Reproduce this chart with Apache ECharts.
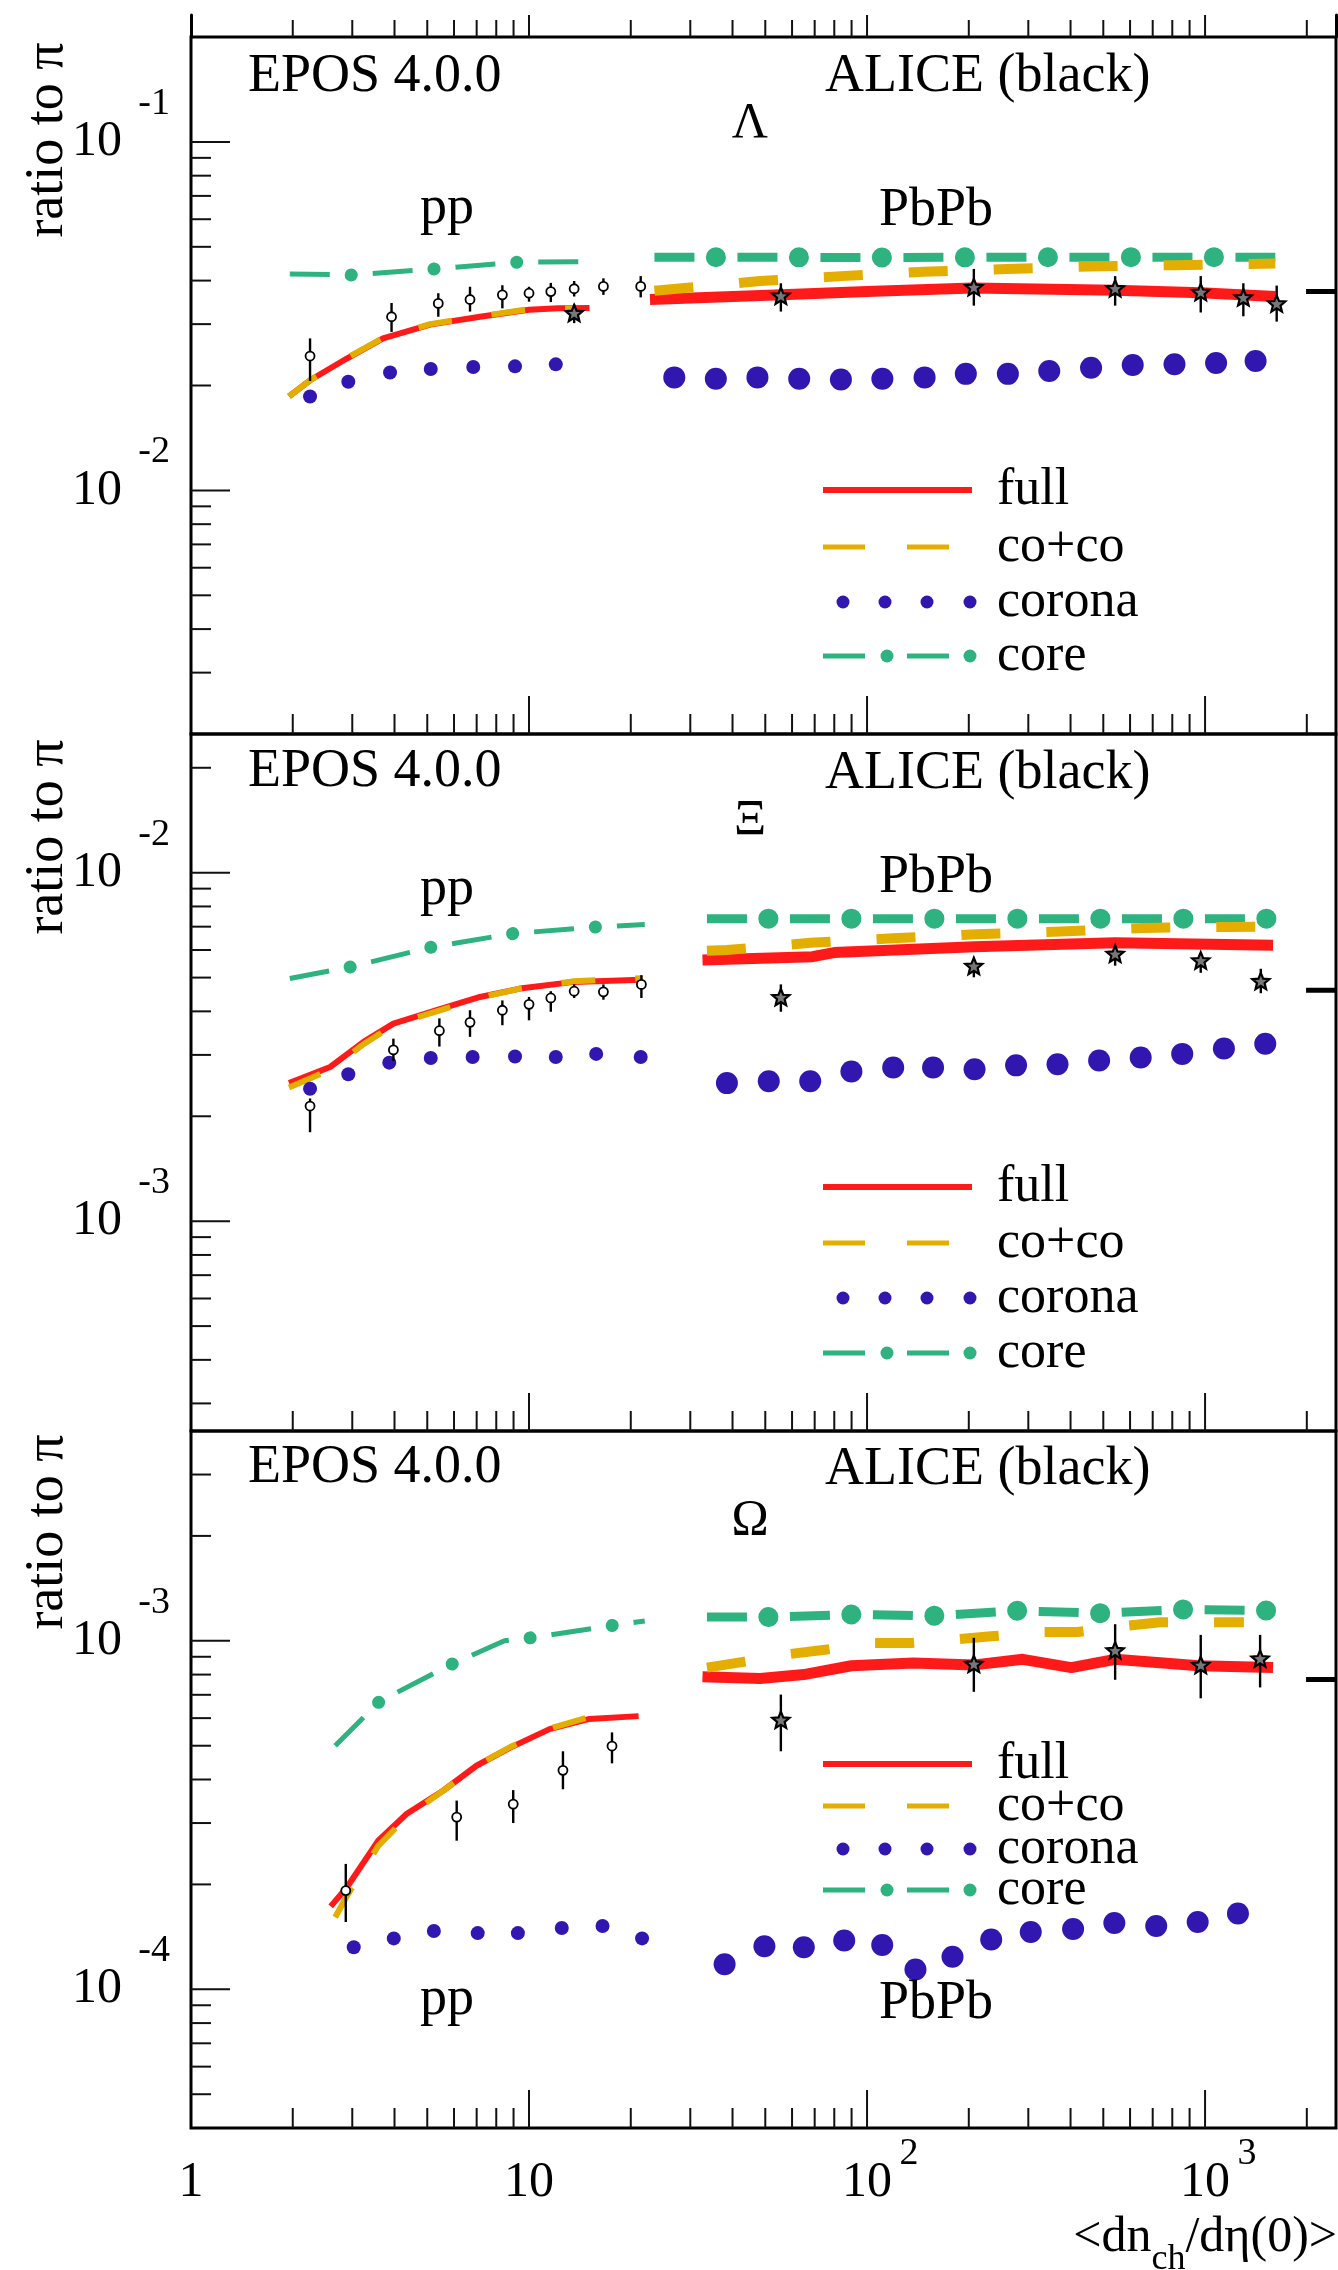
<!DOCTYPE html>
<html>
<head>
<meta charset="utf-8">
<script src="https://cdn.jsdelivr.net/npm/echarts@6/dist/echarts.min.js"></script>
<style>
  html, body { margin: 0; padding: 0; background: #fff; }
  #chart { width: 1338px; height: 2270px; }
</style>
</head>
<body>
<div id="chart"></div>
<script>
// values, [x, y] pairs; ALICE points are [x, y, low, high]

// ---- Lambda ----
const lamFullPP = [[1.95,0.0186],[2.25,0.0207],[2.89,0.0239],[3.7,0.0273],[5.1,0.0299],[7.16,0.0315],[10.0,0.033],[12.2,0.0333],[15.1,0.0334]];
const lamCocoPP = [[1.95,0.0186],[2.25,0.0207],[2.89,0.024],[3.7,0.0274],[5.1,0.03],[7.16,0.0316],[10.0,0.0331],[13.6,0.0333]];
const lamCorePP = [[1.96,0.0418],[3.01,0.0415],[5.28,0.0432],[9.27,0.0452],[14.2,0.0453]];
const lamCoronaPP = [[2.25,0.0186],[2.92,0.0205],[3.88,0.0218],[5.12,0.0223],[6.84,0.0226],[9.09,0.0227],[12.0,0.023]];
const lamFullPb = [[22.8,0.0353],[55.9,0.0364],[100,0.0372],[205,0.0381],[542,0.0375],[971,0.0369],[1614,0.036]];
const lamCocoPb = [[23.5,0.0374],[48.3,0.0399],[83.8,0.0412],[147,0.0424],[259,0.0432],[458,0.0439],[812,0.0443],[1614,0.0448]];
const lamCorePb = [[23.5,0.0467],[100,0.0466],[500,0.0467],[1614,0.0467]];
const lamCoronaPb = [[26.9,0.0211],[35.7,0.0209],[47.4,0.0211],[63.0,0.0209],[83.7,0.0208],[111,0.0209],[148,0.0211],[196,0.0216],[261,0.0216],[346,0.022],[460,0.0225],[611,0.0229],[812,0.023],[1078,0.0232],[1411,0.0235]];
const lamAlicePP = [[2.25,0.0243,0.0206,0.0273],[3.92,0.0315,0.0285,0.0345],[5.39,0.0344,0.0315,0.0368],[6.69,0.0353,0.0326,0.0384],[8.34,0.0364,0.0333,0.0388],[10.0,0.0368,0.0348,0.0384],[11.6,0.0372,0.0347,0.0394],[13.6,0.0379,0.036,0.0399],[16.6,0.0385,0.0364,0.0406],[21.4,0.0385,0.0358,0.0412]];
const lamStarPP = [[13.6,0.0321,0.0302,0.0342]];
const lamAlicePb = [[55.6,0.036,0.0326,0.0393],[207,0.0381,0.0339,0.0432],[542,0.0378,0.0339,0.0412],[971,0.0369,0.0324,0.0412],[1298,0.0356,0.0316,0.0393],[1629,0.0342,0.0305,0.0387]];
const lamRef = 0.0372;

// ---- Xi ----
const xiFullPP = [[1.95,0.00249],[2.58,0.00277],[3.24,0.00327],[3.97,0.00369],[5.33,0.00403],[7.16,0.0044],[9.4,0.00465],[13.6,0.00486],[21.4,0.00493]];
const xiCocoPP = [[1.95,0.00242],[2.58,0.00272],[3.24,0.00322],[3.97,0.00366],[5.33,0.004],[7.16,0.00438],[9.4,0.00465],[13.6,0.00488],[21.7,0.00498]];
const xiCorePP = [[1.96,0.00497],[2.95,0.00536],[5.16,0.00612],[8.98,0.00669],[15.9,0.00699],[22.0,0.0071]];
const xiCoronaPP = [[2.25,0.0024],[2.92,0.00264],[3.86,0.00285],[5.12,0.00294],[6.81,0.00296],[9.09,0.00297],[12.0,0.00296],[15.8,0.00302],[21.4,0.00296]];
const xiFullPb = [[32.6,0.00562],[69,0.00574],[79.9,0.0059],[208,0.00613],[542,0.00629],[1589,0.00619]];
const xiCocoPb = [[33.6,0.00597],[38.5,0.006],[67.9,0.00629],[119,0.00648],[211,0.00666],[373,0.00678],[658,0.00694],[1161,0.00699],[1500,0.007]];
const xiCorePb = [[33.6,0.00738],[200,0.00738],[1663,0.00738]];
const xiCoronaPb = [[38.5,0.00249],[51.2,0.00252],[67.9,0.00252],[89.9,0.00269],[119.5,0.00276],[156.8,0.00276],[208,0.00273],[276,0.0028],[366,0.00282],[486,0.00289],[645,0.00295],[856,0.00302],[1137,0.00313],[1507,0.00323]];
const xiAlicePP = [[2.25,0.00214,0.0018,0.00225],[3.97,0.0031,0.00288,0.00334],[5.43,0.00352,0.00317,0.00382],[6.69,0.00372,0.00338,0.00403],[8.34,0.00403,0.00365,0.0043],[10.0,0.00419,0.00377,0.0044],[11.6,0.00437,0.00399,0.00457],[13.6,0.00457,0.00437,0.00478],[16.6,0.00455,0.00432,0.00478],[21.5,0.00478,0.00437,0.00508]];
const xiAlicePb = [[55.6,0.00437,0.00399,0.00478],[207,0.00537,0.00501,0.00565],[542,0.00582,0.00541,0.0062],[971,0.00557,0.00516,0.00582],[1462,0.00486,0.00451,0.0053]];
const xiRef = 0.0046;

// ---- Omega ----
const omFullPP = [[2.59,0.000173],[2.89,0.000196],[3.58,0.000267],[4.35,0.000319],[5.58,0.000372],[6.99,0.000438],[8.77,0.000493],[11.5,0.000558],[15.1,0.000597],[21.1,0.000608]];
const omCocoPP = [[2.67,0.000161],[2.89,0.000185],[3.58,0.000258],[4.35,0.000313],[5.58,0.000372],[6.99,0.000438],[8.77,0.000495],[11.5,0.00056],[15.1,0.000605],[18.1,0.00063]];
const omCorePP = [[2.67,0.0005],[3.61,0.00067],[5.91,0.000857],[8.46,0.001],[10.1,0.00102],[18.0,0.00111],[22.0,0.00114]];
const omCoronaPP = [[3.03,0.000132],[3.98,0.00014],[5.23,0.000147],[7.05,0.000145],[9.27,0.000145],[12.5,0.00015],[16.5,0.000152],[21.6,0.00014]];
const omFullPb = [[32.6,0.000789],[48.3,0.00078],[65,0.0008],[89.9,0.000848],[137,0.000863],[208,0.000853],[289,0.000885],[402,0.000838],[542,0.000885],[957,0.000848],[1589,0.000838]];
const omCocoPb = [[33.6,0.000838],[43,0.00087],[59.3,0.000917],[76.1,0.000944],[103,0.000985],[135,0.000985],[183,0.00101],[233,0.00103],[322,0.00106],[420,0.00106],[565,0.0011],[738,0.00113],[1002,0.00113],[1303,0.00113]];
const omCorePb = [[33.6,0.00117],[51,0.00117],[90,0.00119],[157,0.00118],[276,0.00122],[486,0.0012],[862,0.00123],[1650,0.00122]];
const omCoronaPb = [[37.9,0.000118],[49.7,0.000133],[65.0,0.000132],[85.6,0.000138],[110.9,0.000134],[139.1,0.000114],[179,0.000124],[233,0.000139],[305,0.000146],[407,0.000149],[539,0.000155],[717,0.000152],[951,0.000156],[1251,0.000165]];
const omAlicePP = [[2.87,0.000192,0.000156,0.000229],[6.11,0.000312,0.000267,0.000348],[8.98,0.00034,0.0003,0.000373],[12.6,0.000425,0.000375,0.000482],[17.6,0.000499,0.000445,0.000546]];
const omAlicePb = [[55.6,0.00059,0.000482,0.000701],[207,0.000854,0.000714,0.00102],[542,0.000934,0.000773,0.001116],[971,0.000848,0.000684,0.00104],[1455,0.000885,0.000735,0.00104]];
const omRef = 0.000775;

// axes
const xMin = 1, xMax = 2440;
const yMins = [0.002, 0.00025, 0.00004];
const yMaxs = [0.2, 0.025, 0.004];
const xLabelVals = [1, 10, 100, 1000];
const xLabelText = ['1', '10', '10', '10'];
const xLabelExp = ['', '', '2', '3'];
const refStart = 1990;
const particles = ['\u039B', '\u039E', '\u03A9'];

const FONT = '"Liberation Serif", "Times New Roman", serif';
const RED = '#ff1a1a', GOLD = '#e3ae00', BLUE = '#3116b0', GREEN = '#2eb27f';

const panels = [
  { fullPP: lamFullPP, cocoPP: lamCocoPP, corePP: lamCorePP, coronaPP: lamCoronaPP, fullPb: lamFullPb, cocoPb: lamCocoPb, corePb: lamCorePb, coronaPb: lamCoronaPb, alicePP: lamAlicePP, starPP: lamStarPP, alicePb: lamAlicePb, ref: lamRef },
  { fullPP: xiFullPP, cocoPP: xiCocoPP, corePP: xiCorePP, coronaPP: xiCoronaPP, fullPb: xiFullPb, cocoPb: xiCocoPb, corePb: xiCorePb, coronaPb: xiCoronaPb, alicePP: xiAlicePP, starPP: [], alicePb: xiAlicePb, ref: xiRef },
  { fullPP: omFullPP, cocoPP: omCocoPP, corePP: omCorePP, coronaPP: omCoronaPP, fullPb: omFullPb, cocoPb: omCocoPb, corePb: omCorePb, coronaPb: omCoronaPb, alicePP: omAlicePP, starPP: [], alicePb: omAlicePb, ref: omRef }
];

// layout of the three panels (pixels)
const gridTops = [37, 734, 1431];
const gridH = 697;

function isDecade (v) {
  const l = Math.log10(v);
  return Math.abs(l - Math.round(l)) < 1e-6;
}

// minor + major tick values inside (lo, hi)
function logTicks (lo, hi) {
  const out = [];
  for (let e = -6; e <= 4; e++) {
    for (let m = 1; m <= 9; m++) {
      const v = m * Math.pow(10, e);
      if (v > lo * 1.0001 && v < hi * 0.9999) out.push({ v: v, major: m === 1 });
    }
  }
  return out;
}

function tickRender (horizontal) {
  return function (params, api) {
    const p = api.coord([api.value(0), api.value(1)]);
    const len = api.value(2);
    const shape = horizontal
      ? { x1: p[0], y1: p[1], x2: p[0] + len, y2: p[1] }
      : { x1: p[0], y1: p[1], x2: p[0], y2: p[1] - len };
    return { type: 'line', shape: shape, style: { stroke: '#111', lineWidth: 2 } };
  };
}

function starPoints (cx, cy, R, r) {
  const pts = [];
  for (let i = 0; i < 10; i++) {
    const a = -Math.PI / 2 + i * Math.PI / 5;
    const rr = i % 2 === 0 ? R : r;
    pts.push([cx + rr * Math.cos(a), cy + rr * Math.sin(a)]);
  }
  return pts;
}

function aliceSeries (p, data, kind) {
  return {
    type: 'custom', xAxisIndex: p + 1, yAxisIndex: p + 2, data: data, silent: true, clip: false, z: 5,
    renderItem: function (params, api) {
      const c = api.coord([api.value(0), api.value(1)]);
      const lo = api.coord([api.value(0), api.value(2)]);
      const hi = api.coord([api.value(0), api.value(3)]);
      const kids = [{ type: 'line', shape: { x1: c[0], y1: hi[1], x2: c[0], y2: lo[1] }, style: { stroke: '#000', lineWidth: 2.4 } }];
      if (kind === 'star') {
        kids.push({ type: 'polygon', shape: { points: starPoints(c[0], c[1], 9, 4) }, style: { fill: '#777', stroke: '#000', lineWidth: 2.2 } });
      } else {
        kids.push({ type: 'circle', shape: { cx: c[0], cy: c[1], r: 4.5 }, style: { fill: '#fff', stroke: '#000', lineWidth: 1.8 } });
      }
      return { type: 'group', children: kids };
    }
  };
}

function lineS (p, data, color, width, dash, offset, cap, z) {
  return {
    type: 'line', xAxisIndex: p + 1, yAxisIndex: p + 2, data: data, symbol: 'none', silent: true, z: z || 2,
    lineStyle: { color: color, width: width, type: dash || 'solid', dashOffset: offset || 0, cap: cap || 'butt', join: 'round', opacity: 1 }
  };
}

function dotS (p, data, size) {
  return { type: 'scatter', xAxisIndex: p + 1, yAxisIndex: p + 2, data: data, symbol: 'circle', symbolSize: size, silent: true, z: 3, itemStyle: { color: BLUE, opacity: 1 } };
}

const grids = [{ left: 191, right: 2, top: 15, height: 22, outerBoundsMode: 'none' }];
const xAxes = [{ gridIndex: 0, type: 'log', logBase: 10, min: xMin, max: xMax, position: 'bottom', axisLine: { show: false }, axisTick: { show: false }, axisLabel: { show: false }, splitLine: { show: false } }];
const yAxes = [
  { gridIndex: 0, type: 'value', min: 0, max: 1, position: 'left', axisLine: { show: true, lineStyle: { color: '#000', width: 3 } }, axisTick: { show: false }, axisLabel: { show: false }, splitLine: { show: false } },
  { gridIndex: 0, type: 'value', min: 0, max: 1, position: 'right', axisLine: { show: true, lineStyle: { color: '#000', width: 3 } }, axisTick: { show: false }, axisLabel: { show: false }, splitLine: { show: false } }
];
const series = [];
const xTicks = logTicks(xMin, xMax);

// strip of the panel above (only its lower ticks are visible)
series.push({ type: 'custom', xAxisIndex: 0, yAxisIndex: 0, clip: false, silent: true, renderItem: tickRender(false),
  data: xTicks.map(t => [t.v, 0, t.major ? 22 : 17]) });

for (let p = 0; p < 3; p++) {
  grids.push({ left: 191, right: 2, top: gridTops[p], height: gridH, show: true, borderColor: '#000', borderWidth: 3, outerBoundsMode: 'none' });
  const last = p === 2;
  xAxes.push({
    gridIndex: p + 1, type: 'log', logBase: 10, min: xMin, max: xMax, position: 'bottom',
    axisLine: { show: false }, axisTick: { show: false }, splitLine: { show: false },
    axisLabel: {
      show: last, margin: 30, fontFamily: FONT, fontSize: 50, lineHeight: 50, color: '#000',
      formatter: function (v) { const i = xLabelVals.findIndex(a => Math.abs(a - v) / a < 1e-6); return i >= 0 ? xLabelText[i] : ''; }
    }
  });
  yAxes.push({
    gridIndex: p + 1, type: 'log', logBase: 10, min: yMins[p], max: yMaxs[p], position: 'left',
    axisLine: { show: false }, axisTick: { show: false }, splitLine: { show: false },
    axisLabel: { margin: 69, fontFamily: FONT, fontSize: 50, color: '#000', formatter: v => isDecade(v) ? '10' : '' }
  });
}
// superscripts of the tick labels: a two-line label whose first line sits above the tick
for (let p = 0; p < 3; p++) {
  yAxes.push({
    gridIndex: p + 1, type: 'log', logBase: 10, min: yMins[p], max: yMaxs[p], position: 'left',
    axisLine: { show: false }, axisTick: { show: false }, splitLine: { show: false },
    axisLabel: { margin: 21, fontFamily: FONT, fontSize: 38, lineHeight: 76, color: '#000',
      formatter: v => isDecade(v) ? String(Math.round(Math.log10(v))) + '\n ' : '' }
  });
}
xAxes.push({
  gridIndex: 3, type: 'log', logBase: 10, min: xMin, max: xMax, position: 'bottom',
  axisLine: { show: false }, axisTick: { show: false }, splitLine: { show: false },
  axisLabel: { margin: 7, fontFamily: FONT, fontSize: 38, lineHeight: 38, padding: [0, 0, 0, 84], color: '#000',
    formatter: function (v) { const i = xLabelVals.findIndex(a => Math.abs(a - v) / a < 1e-6); return i >= 0 ? xLabelExp[i] : ''; } }
});

for (let p = 0; p < 3; p++) {
  const d = panels[p];
  // core: dashes with fat dots in the gaps
  series.push(lineS(p, d.corePP, GREEN, 5, [40, 43], 0, 'butt', 1));
  series.push(lineS(p, d.corePP, GREEN, 13, [0.1, 82.9], 21.6, 'round', 1));
  series.push(lineS(p, d.corePb, GREEN, 9, [40, 43], 0, 'butt', 1));
  series.push(lineS(p, d.corePb, GREEN, 20, [0.1, 82.9], 21.6, 'round', 1));
  // corona
  series.push(dotS(p, d.coronaPP, 14));
  series.push(dotS(p, d.coronaPb, 22));
  // full and co+co
  series.push(lineS(p, d.fullPP, RED, 6));
  series.push(lineS(p, d.cocoPP, GOLD, 6, [34, 40], 0, 'butt', 2));
  series.push(lineS(p, d.fullPb, RED, 11));
  series.push(lineS(p, d.cocoPb, GOLD, 10, [39, 46], 0, 'butt', 2));
  // ALICE data
  series.push(aliceSeries(p, d.alicePP, 'circle'));
  series.push(aliceSeries(p, d.starPP, 'star'));
  series.push(aliceSeries(p, d.alicePb, 'star'));
  series.push(lineS(p, [[refStart, d.ref], [xMax, d.ref]], '#000', 5));
  // ticks
  series.push({ type: 'custom', xAxisIndex: p + 1, yAxisIndex: p + 2, clip: false, silent: true, z: 6, renderItem: tickRender(false),
    data: xTicks.map(t => [t.v, yMins[p], t.major ? 38 : 20]) });
  series.push({ type: 'custom', xAxisIndex: p + 1, yAxisIndex: p + 2, clip: false, silent: true, z: 6, renderItem: tickRender(true),
    data: logTicks(yMins[p], yMaxs[p]).map(t => [xMin, t.v, t.major ? 39 : 20]) });
}

// texts
function txt (x, y, s, size, align) {
  return { type: 'text', x: x, y: y, silent: true, z: 20,
    style: { text: s, font: size + 'px ' + FONT, fill: '#000', align: align || 'left', verticalAlign: 'middle', textAlign: align || 'left', textVerticalAlign: 'middle' } };
}
const labelY = {
  epos: [77, 772, 1468], alice: [77, 774, 1470], greek: [124, 821, 1521],
  pp: [209, 890, 2000], pb: [211, 878, 2004], ratio: [140, 837, 1532]
};
const legendRows = [[490, 547, 602, 656], [1187, 1243, 1298, 1353], [1764, 1806, 1849, 1890]];
const legendNames = ['full', 'co+co', 'corona', 'core'];

const graphics = [];
for (let p = 0; p < 3; p++) {
  graphics.push(txt(248, labelY.epos[p], 'EPOS 4.0.0', 54));
  graphics.push(txt(825, labelY.alice[p], 'ALICE (black)', 54));
  graphics.push(txt(750, labelY.greek[p], particles[p], 50, 'center'));
  graphics.push(txt(447, labelY.pp[p], 'pp', 54, 'center'));
  graphics.push(txt(936, labelY.pb[p], 'PbPb', 54, 'center'));
  const r = txt(48, labelY.ratio[p], 'ratio to \u03C0', 54, 'center');
  r.rotation = Math.PI / 2;
  graphics.push(r);
  const rows = legendRows[p];
  graphics.push({ type: 'line', silent: true, z: 20, shape: { x1: 823, y1: rows[0], x2: 972, y2: rows[0] }, style: { stroke: RED, lineWidth: 6 } });
  graphics.push({ type: 'line', silent: true, z: 20, shape: { x1: 823, y1: rows[1], x2: 950, y2: rows[1] }, style: { stroke: GOLD, lineWidth: 5, lineDash: [42, 42] } });
  [843, 885, 927, 970].forEach(cx => graphics.push({ type: 'circle', silent: true, z: 20, shape: { cx: cx, cy: rows[2], r: 6.5 }, style: { fill: BLUE } }));
  graphics.push({ type: 'line', silent: true, z: 20, shape: { x1: 823, y1: rows[3], x2: 950, y2: rows[3] }, style: { stroke: GREEN, lineWidth: 5, lineDash: [42, 42] } });
  [887, 970].forEach(cx => graphics.push({ type: 'circle', silent: true, z: 20, shape: { cx: cx, cy: rows[3], r: 6.5 }, style: { fill: GREEN } }));
  legendNames.forEach((n, i) => graphics.push(txt(997, rows[i], n, 52)));
}
graphics.push({ type: 'text', x: 1337, y: 2238, silent: true, z: 20,
  style: { text: '{a|<dn}{b|ch}{a|/d\u03B7(0)>}', align: 'right', verticalAlign: 'middle', textAlign: 'right', textVerticalAlign: 'middle',
    rich: { a: { fontFamily: FONT, fontSize: 50, fill: '#000', color: '#000' }, b: { fontFamily: FONT, fontSize: 36, fill: '#000', color: '#000', padding: [44, 0, 0, 0] } } } });

const chart = echarts.init(document.getElementById('chart'), null, { renderer: 'canvas' });
chart.setOption({
  animation: false,
  backgroundColor: '#fff',
  grid: grids,
  xAxis: xAxes,
  yAxis: yAxes,
  series: series,
  graphic: graphics
});
</script>
</body>
</html>
